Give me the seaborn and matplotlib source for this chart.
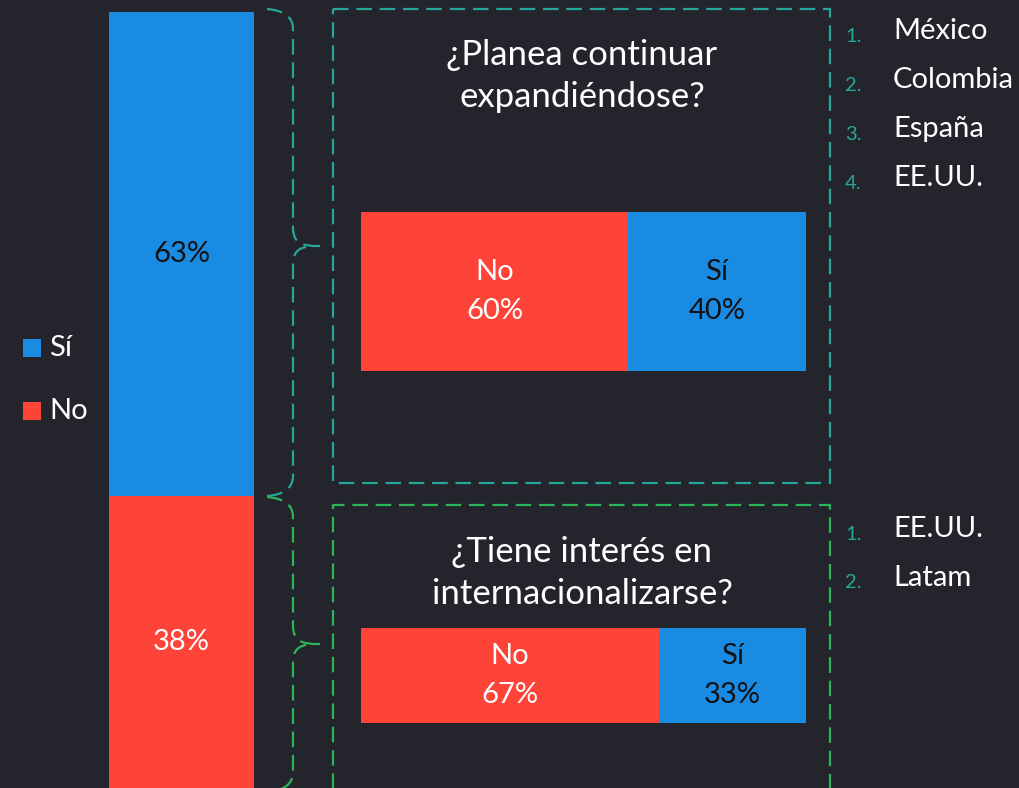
import numpy as np
import pandas as pd
import matplotlib
matplotlib.use('Agg')
import matplotlib.pyplot as plt
from matplotlib.path import Path
from matplotlib.patches import PathPatch
import seaborn as sns

# data
answers = ['Sí', 'No']
total_pct = [63, 38]
questions = ['¿Planea continuar\nexpandiéndose?', '¿Tiene interés en\ninternacionalizarse?']
q_no = [60, 67]
q_si = [40, 33]
destinations = [['México', 'Colombia', 'España', 'EE.UU.'], ['EE.UU.', 'Latam']]

BG = '#24252c'
BLUE = '#1a8be3'
RED = '#fe4338'
TEAL = '#26a69a'
GREEN = '#2bb45a'
W, H = 1019, 788

plt.rcParams['font.family'] = ['Lato', 'DejaVu Sans']

fig = plt.figure(figsize=(W / 100, H / 100), dpi=100)
fig.patch.set_facecolor(BG)


def px_axes(x0, y0, x1, y1):
    # axes placed by pixel box (top-left origin)
    return fig.add_axes([x0 / W, 1 - y1 / H, (x1 - x0) / W, (y1 - y0) / H])


# left stacked column
axl = px_axes(109, 12, 254, 788)
sns.barplot(x=['total'], y=[sum(total_pct)], color=RED, width=1, saturation=1,
            linewidth=0, ax=axl)
sns.barplot(x=['total'], y=[total_pct[0]], color=BLUE, width=1, saturation=1,
            linewidth=0, ax=axl)
axl.set_xlim(-0.5, 0.5)
axl.set_ylim(sum(total_pct), 0)
axl.axis('off')
axl.text(0, total_pct[0] / 2, f'{total_pct[0]}%', ha='center', va='center',
         fontsize=21, color='#111111')
axl.text(0, total_pct[0] + total_pct[1] / 2, f'{total_pct[1]}%', ha='center',
         va='center', fontsize=21, color='white')

# horizontal stacked bars for each question
bar_boxes = [(361, 212, 806, 371), (361, 628, 806, 723)]
for i, box in enumerate(bar_boxes):
    ax = px_axes(*box)
    sns.barplot(x=[q_no[i] + q_si[i]], y=['q'], orient='h', color=BLUE, width=1,
                saturation=1, linewidth=0, ax=ax)
    sns.barplot(x=[q_no[i]], y=['q'], orient='h', color=RED, width=1,
                saturation=1, linewidth=0, ax=ax)
    ax.set_xlim(0, 100)
    ax.set_ylim(0.5, -0.5)
    ax.axis('off')
    ax.text(q_no[i] / 2, 0, f'No\n{q_no[i]}%', ha='center', va='center',
            fontsize=21, color='white', linespacing=1.58)
    ax.text(q_no[i] + q_si[i] / 2, 0, f'Sí\n{q_si[i]}%', ha='center', va='center',
            fontsize=21, color='#111111', linespacing=1.58)

# overlay for annotations
ov = fig.add_axes([0, 0, 1, 1])
ov.set_xlim(0, W)
ov.set_ylim(H, 0)
ov.patch.set_alpha(0)
ov.axis('off')

dash = (0, (7, 3.5))

# legend
for lab, col, yc in [(answers[0], BLUE, 348), (answers[1], RED, 411)]:
    ov.add_patch(plt.Rectangle((23, yc - 9), 18, 18, color=col, lw=0))
    ov.text(49, yc, lab, ha='left', va='center', fontsize=21, color='white')


# braces
def brace(y0, ytip, y1, col):
    verts = [(267, y0), (293, y0 + 2), (293, y0 + 20),
             (293, ytip - 18), (293, ytip - 3), (306, ytip - 1),
             (306, ytip - 1), (313, ytip), (320, ytip),
             (306, ytip + 1), (293, ytip + 3), (293, ytip + 18),
             (293, y1 - 20), (293, y1 - 2), (267, y1)]
    codes = [Path.MOVETO, Path.CURVE3, Path.CURVE3,
             Path.LINETO, Path.CURVE3, Path.CURVE3,
             Path.MOVETO, Path.LINETO, Path.LINETO,
             Path.MOVETO, Path.CURVE3, Path.CURVE3,
             Path.LINETO, Path.CURVE3, Path.CURVE3]
    ov.add_patch(PathPatch(Path(verts, codes), fill=False, edgecolor=col,
                           lw=1.6, linestyle=dash))


brace(9, 246, 496, TEAL)
brace(497, 644, 792, GREEN)

# dashed boxes
ov.plot([333, 830, 830, 333, 333], [9, 9, 483, 483, 9], color=TEAL, lw=1.6,
        linestyle=dash)
ov.plot([333, 333, 830, 830], [800, 505, 505, 800], color=GREEN, lw=1.6,
        linestyle=dash)

# question titles
ov.text(582, 76, questions[0], ha='center', va='center', fontsize=25,
        color='white', linespacing=1.42)
ov.text(582, 573, questions[1], ha='center', va='center', fontsize=25,
        color='white', linespacing=1.42)

# destination lists
for items, y_start in zip(destinations, [31, 529]):
    for j, name in enumerate(items):
        yy = y_start + j * 49
        ov.text(845, yy + 5, f'{j + 1}.', ha='left', va='center', fontsize=14.5,
                color=TEAL)
        ov.text(893, yy, name, ha='left', va='center', fontsize=21, color='white')

fig.savefig('out.png', dpi=100, facecolor=BG)
